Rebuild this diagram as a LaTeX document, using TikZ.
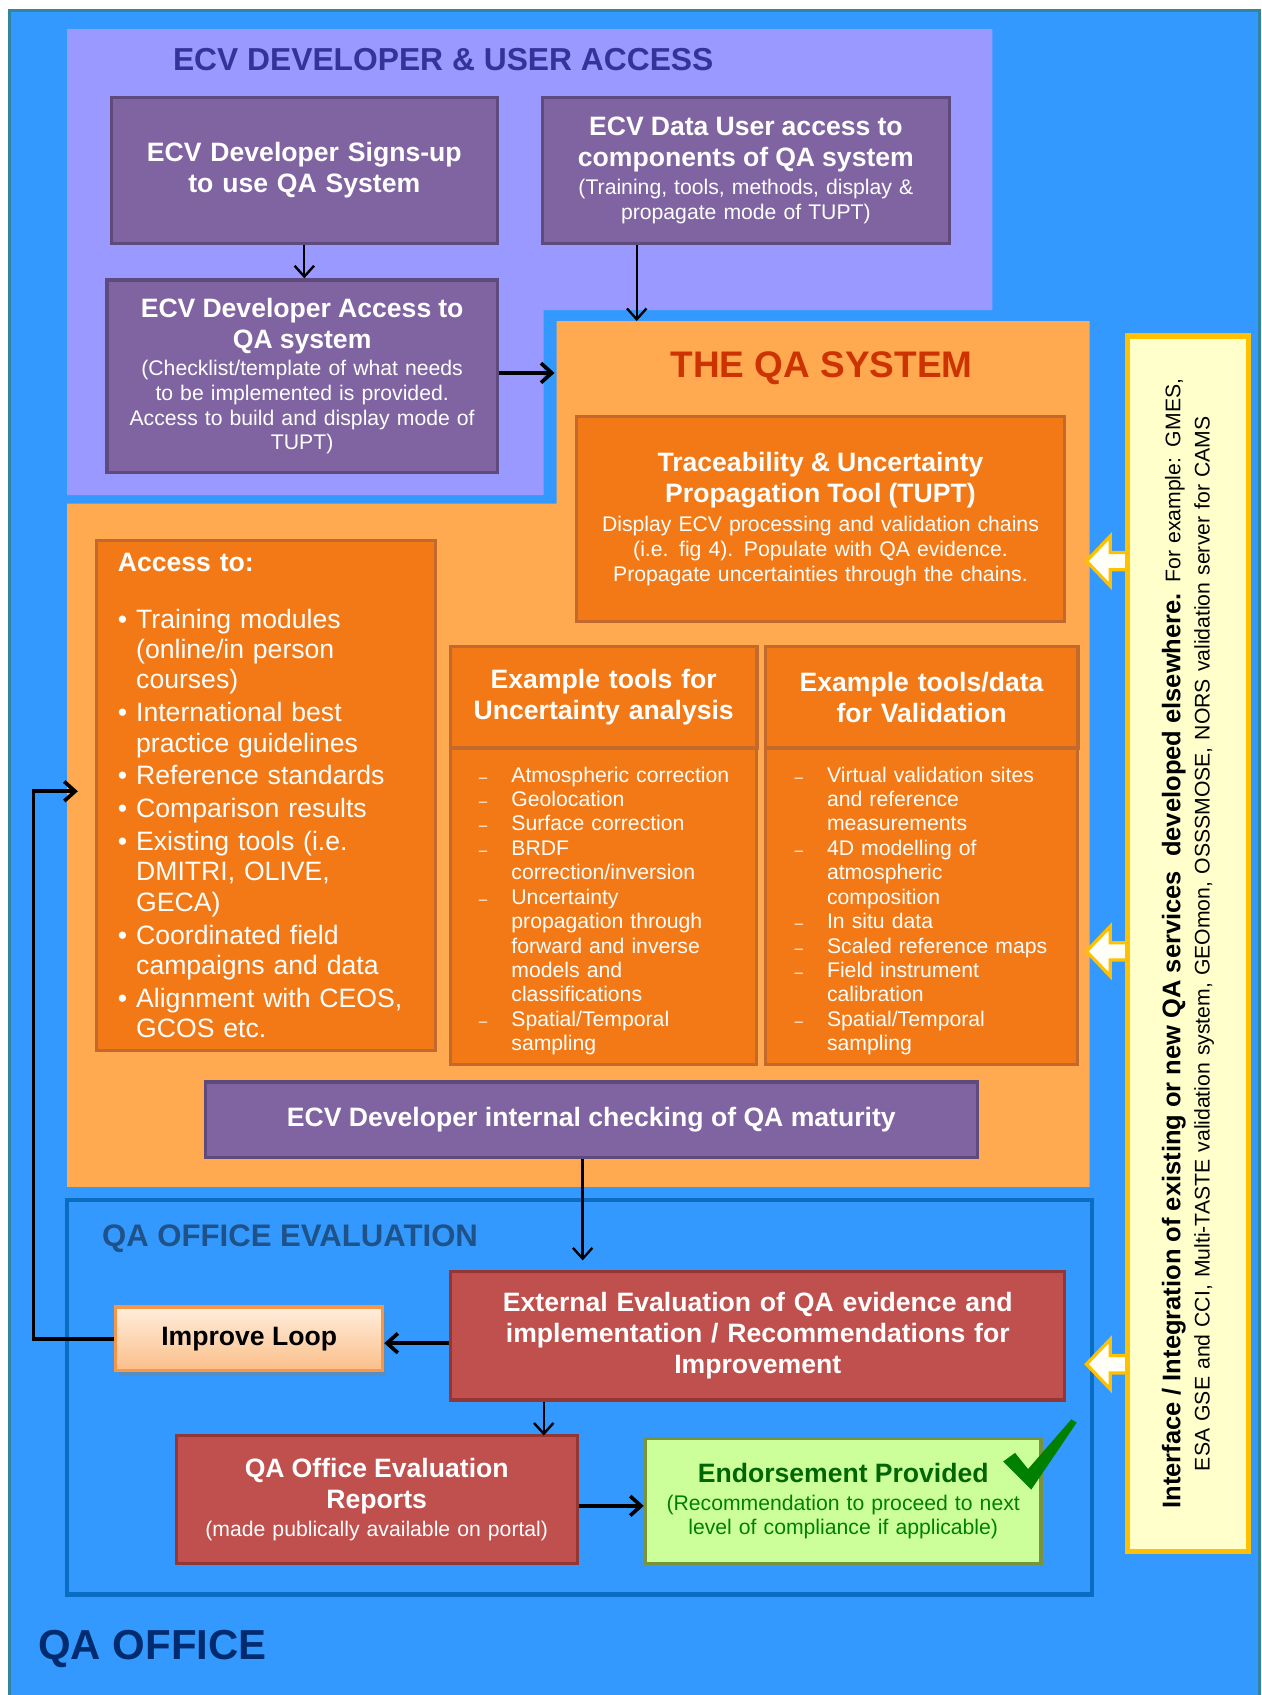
\documentclass[tikz,border=0pt]{standalone}
\usepackage{fontspec}
\setmainfont{Liberation Sans}
\usetikzlibrary{arrows.meta,shadows}

\definecolor{officeblue}{HTML}{3399FF}
\definecolor{frameteal}{HTML}{31859C}
\definecolor{accesslilac}{HTML}{9999FF}
\definecolor{devpurple}{HTML}{8064A2}
\definecolor{devpurpleline}{HTML}{5F4A7E}
\definecolor{qaorange}{HTML}{FFAA50}
\definecolor{toolorange}{HTML}{F27916}
\definecolor{toolline}{HTML}{C2692D}
\definecolor{evalred}{HTML}{C0504D}
\definecolor{evalline}{HTML}{943634}
\definecolor{evalframe}{HTML}{0A6DC2}
\definecolor{okgreen}{HTML}{CCFF99}
\definecolor{okline}{HTML}{77933C}
\definecolor{oktext}{HTML}{006600}
\definecolor{oksub}{HTML}{008000}
\definecolor{sideyellow}{HTML}{FFFFCC}
\definecolor{sideline}{HTML}{FFC000}
\definecolor{loopline}{HTML}{F79646}
\definecolor{loophigh}{HTML}{FFEEDD}
\definecolor{looplow}{HTML}{FBBE88}
\definecolor{devtitlecol}{HTML}{333399}
\definecolor{systitlecol}{HTML}{CC3300}
\definecolor{evaltitlecol}{HTML}{1F5288}
\definecolor{officetitlecol}{HTML}{002B6E}

% Caratteri
\newcommand{\boxtitle}{\fontsize{12.3}{14.3}\selectfont\bfseries}
\newcommand{\boxtext}{\fontsize{9.8}{11.4}\selectfont}
\newcommand{\bulitem}[1]{\par\vspace{1.2pt}\hangindent=8.5pt\hangafter=1\noindent\makebox[8.5pt][l]{\textbullet}#1}
\newcommand{\dashitem}[1]{\par\hangindent=15pt\hangafter=1\noindent\makebox[15pt][l]{\fontsize{7}{7}\selectfont--}#1}

\begin{document}
\begin{tikzpicture}[x=0.5pt, y=-0.5pt, >={Straight Barb[length=5pt,width=9pt]}]

    % Stili delle scatole
    \tikzset{
        devbox/.style={draw=devpurpleline, fill=devpurple, line width=1.5pt, text=white, align=center, font=\boxtext},
        toolbox/.style={draw=toolline, fill=toolorange, line width=1.5pt, text=white, align=center, font=\boxtext},
        evalbox/.style={draw=evalline, fill=evalred, line width=1.5pt, text=white, align=center, font=\boxtext},
        link/.style={->, line width=1.1pt},
        biglink/.style={->, line width=1.7pt},
        feedarrow/.style={draw=sideline, fill=white!85!sideyellow, line width=1.5pt}
    }

    % Sfondo e cornice
    \useasboundingbox (0,0) rectangle (1167,1568);
    \draw[frameteal, fill=officeblue, line width=1.5pt] (9,10) rectangle (1165,1600);

    % Aree colorate
    \fill[accesslilac] (62,27) -- (918,27) -- (918,287) -- (503,287) -- (503,458) -- (62,458) -- cycle;
    \fill[qaorange] (515,297) -- (1008,297) -- (1008,1098) -- (62,1098) -- (62,466) -- (515,466) -- cycle;
    \draw[evalframe, line width=2pt] (62,1110) rectangle (1010,1475);

    % Titoli delle aree
    \node[inner sep=0, text=devtitlecol, font=\fontsize{14.7}{16}\selectfont\bfseries] (devtitle) at (410,55) {ECV DEVELOPER \& USER ACCESS};
    \node[inner sep=0, text=systitlecol, font=\fontsize{17.1}{19}\selectfont\bfseries] (systitle) at (760,341) {THE QA SYSTEM};
    \node[inner sep=0, anchor=west, text=evaltitlecol, font=\fontsize{14.4}{16}\selectfont\bfseries] (evaltitle) at (94,1146) {QA OFFICE EVALUATION};
    \node[inner sep=0, anchor=west, text=officetitlecol, font=\fontsize{19.4}{21}\selectfont\bfseries] (officetitle) at (35,1525) {QA OFFICE};

    % Accesso sviluppatori e utenti
    \node[devbox, minimum width=178.5pt, minimum height=67.5pt, text width=170pt, font=\boxtitle] (signup) at (281.5,157.5)
        {ECV Developer Signs-up\\to use QA System};
    \node[devbox, minimum width=188pt, minimum height=67.5pt, text width=180pt] (useracc) at (690,157.5)
        {{\boxtitle ECV Data User access to\\components of QA system\par}\vspace{1.6pt}
         (Training, tools, methods, display \&\\propagate mode of TUPT)};
    \node[devbox, minimum width=180.5pt, minimum height=89pt, text width=172pt] (devacc) at (279.5,348)
        {{\boxtitle ECV Developer Access to\\QA system\par}\vspace{1.2pt}
         (Checklist/template of what needs\\to be implemented is provided.\\Access to build and display mode of\\TUPT)};

    % Strumenti del sistema QA
    \node[toolbox, minimum width=226pt, minimum height=95pt, text width=216pt] (tupt) at (759,480)
        {{\boxtitle Traceability \& Uncertainty\\Propagation Tool (TUPT)\par}\vspace{2.2pt}
         Display ECV processing and validation chains\\(i.e. fig 4). Populate with QA evidence.\\Propagate uncertainties through the chains.};
    \node[toolbox, minimum width=157pt, minimum height=236pt, text width=137pt, align=left,
          font=\fontsize{12.3}{14}\selectfont] (access) at (246,736)
        {\textbf{Access to:}\par\vspace{11pt}
         \bulitem{Training modules\newline(online/in person\newline courses)}
         \bulitem{International best\newline practice guidelines}
         \bulitem{Reference standards}
         \bulitem{Comparison results}
         \bulitem{Existing tools (i.e.\newline DMITRI, OLIVE,\newline GECA)}
         \bulitem{Coordinated field\newline campaigns and data}
         \bulitem{Alignment with CEOS,\newline GCOS etc.}\par};
    \node[toolbox, minimum width=141.5pt, minimum height=47pt, text width=135pt, font=\boxtitle] (unchead) at (558.5,645)
        {Example tools for\\Uncertainty analysis};
    \node[toolbox, minimum width=141.5pt, minimum height=146.5pt, text width=134pt, align=left,
          font=\fontsize{9.8}{11.3}\selectfont] (uncbody) at (558.5,838.5)
        {\leftskip=9.3pt
         \dashitem{Atmospheric correction}
         \dashitem{Geolocation}
         \dashitem{Surface correction}
         \dashitem{BRDF\newline correction/inversion}
         \dashitem{Uncertainty\newline propagation through\newline forward and inverse\newline models and\newline classifications}
         \dashitem{Spatial/Temporal\newline sampling}\par};
    \node[toolbox, minimum width=144.5pt, minimum height=47pt, text width=138pt, font=\boxtitle] (valhead) at (852.5,645)
        {Example tools/data\\for Validation};
    \node[toolbox, minimum width=144.5pt, minimum height=146.5pt, text width=134pt, align=left,
          font=\fontsize{9.8}{11.3}\selectfont] (valbody) at (852.5,838.5)
        {\leftskip=8.3pt
         \dashitem{Virtual validation sites\newline and reference\newline measurements}
         \dashitem{4D modelling of\newline atmospheric\newline composition}
         \dashitem{In situ data}
         \dashitem{Scaled reference maps}
         \dashitem{Field instrument\newline calibration}
         \dashitem{Spatial/Temporal\newline sampling}\par};
    \node[devbox, minimum width=357pt, minimum height=35pt, font=\boxtitle] (check) at (547,1036)
        {ECV Developer internal checking of QA maturity};

    % Valutazione dell'ufficio QA
    \node[evalbox, minimum width=284pt, minimum height=59.5pt, text width=272pt, font=\boxtitle] (exteval) at (701,1235.5)
        {External Evaluation of QA evidence and\\implementation / Recommendations for\\Improvement};
    \node[draw=loopline, line width=1.5pt, top color=loophigh, bottom color=looplow,
          drop shadow={opacity=0.45, shadow xshift=1.5pt, shadow yshift=-2.5pt},
          minimum width=123.5pt, minimum height=29.5pt, font=\boxtitle] (improve) at (230.5,1238.5) {Improve Loop};
    \node[evalbox, minimum width=185.5pt, minimum height=59pt, text width=176pt] (reports) at (348.5,1387)
        {{\boxtitle QA Office Evaluation\\Reports\par}\vspace{1.6pt}
         (made publically available on portal)};
    \node[draw=okline, fill=okgreen, line width=1.5pt, text=oksub, align=center, font=\boxtext,
          minimum width=183pt, minimum height=57.5pt, text width=176pt] (endorse) at (780,1388.5)
        {{\boxtitle\color{oktext} Endorsement Provided\par}\vspace{1.6pt}
         (Recommendation to proceed to next\\level of compliance if applicable)};

    % Spunta verde
    \fill[oksub] (928,1352) -- (939,1344) -- (951,1359) -- (991,1313) -- (996,1316) -- (954,1378) -- cycle;

    % Frecce dal riquadro laterale
    \foreach \ay in {519,880,1262} {
        \draw[feedarrow] (1005,\ay) -- (1027,\ay-23) -- (1027,\ay-8) -- (1046,\ay-8)
            -- (1046,\ay+8) -- (1027,\ay+8) -- (1027,\ay+23) -- cycle;
    }

    % Riquadro laterale
    \node[draw=sideline, fill=sideyellow, line width=2.5pt, rotate=90, align=center,
          minimum width=562pt, minimum height=56pt, text width=545pt,
          font=\fontsize{9.8}{13.5}\selectfont] (side) at (1099,873)
        {{\fontsize{11.8}{13.5}\selectfont\bfseries Interface / Integration of existing or new QA services\ \ developed elsewhere.}
         For example: GMES,\\ESA GSE and CCI, Multi-TASTE validation system, GEOmon, OSSSMOSE, NORS validation server for CAMS};

    % Collegamenti
    \coordinate (qatop) at (589,297);
    \coordinate (qaleft) at (513,345);
    \coordinate (evalin) at (539,1166);
    \coordinate (repin) at (503,1328);
    \coordinate (loopcorner) at (31,732);
    \coordinate (loopend) at (72,732);
    \draw[link] (signup.south) -- (signup.south |- devacc.north);
    \draw[link] (useracc.south -| qatop) -- (qatop);
    \draw[biglink] (devacc.east |- qaleft) -- (qaleft);
    \draw[link] (check.south -| evalin) -- (evalin);
    \draw[biglink] ([yshift=-3.5pt]exteval.west) -- ([yshift=-3.5pt]exteval.west -| improve.east);
    \draw[biglink] (improve.west) -| (loopcorner) -- (loopend);
    \draw[link] (exteval.south -| repin) -- (repin);
    \draw[biglink] ([yshift=-3pt]reports.east) -- ([yshift=-3pt]reports.east -| endorse.west);

\end{tikzpicture}
\end{document}
